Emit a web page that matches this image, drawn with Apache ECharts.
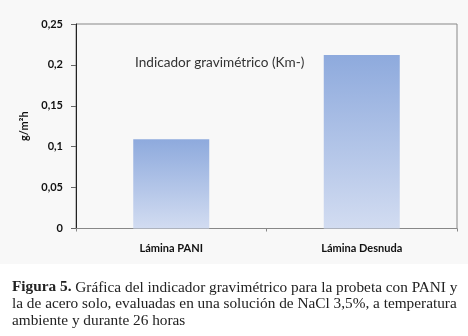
<!DOCTYPE html>
<html>
<head>
<meta charset="utf-8">
<script src="https://cdn.jsdelivr.net/npm/echarts@6/dist/echarts.min.js"></script>
<style>
  html, body { margin: 0; padding: 0; background: #fff; }
  #chart { width: 468px; height: 336px; }
</style>
</head>
<body>
<div id="chart"></div>
<script>
  // datos del gráfico
  var categories = ['Lámina PANI', 'Lámina Desnuda'];
  var values = [0.109, 0.212];
  var yTicks = [0, 0.05, 0.1, 0.15, 0.2, 0.25];
  var chartTitle = 'Indicador gravimétrico (Km-)';
  var yName = 'g/m²h';
  var captionBold = 'Figura 5.';
  var captionLines = [
    ' Gráfica del indicador gravimétrico para la probeta con PANI y',
    'la de acero solo, evaluadas en una solución de NaCl 3,5%, a temperatura',
    'ambiente y durante 26 horas'
  ];

  var labelFont = { color: '#111', fontWeight: 'bold', fontSize: 11, fontFamily: 'Lato, sans-serif' };

  var myChart = echarts.init(document.getElementById('chart'));
  myChart.setOption({
    backgroundColor: '#fff',
    animation: false,
    graphic: [
      { type: 'rect', z: -10, shape: { x: 0, y: 0, width: 468, height: 264 }, style: { fill: '#f8f8f8' } },
      {
        type: 'text', left: 135, top: 56,
        style: { text: chartTitle, fontSize: 13.6, fontFamily: 'Lato, sans-serif', fill: '#333' }
      },
      {
        type: 'text', left: 12, top: 280,
        style: {
          text: '{b|' + captionBold + '}{n|' + captionLines[0] + '}\n{n|' + captionLines[1] + '}\n{n|' + captionLines[2] + '}',
          fill: '#222',
          rich: {
            b: { fontWeight: 'bold', fontSize: 15.3, fontFamily: '"Liberation Serif", serif', fill: '#222', lineHeight: 16.5 },
            n: { fontSize: 15.3, fontFamily: '"Liberation Serif", serif', fill: '#222', lineHeight: 16.5 }
          }
        }
      }
    ],
    grid: { left: 76, top: 24, right: 11, bottom: 107.5, show: true, borderColor: '#888', borderWidth: 1, backgroundColor: 'transparent' },
    xAxis: {
      type: 'category',
      data: categories,
      axisLine: { lineStyle: { color: '#888' } },
      axisTick: { show: true, length: 3, lineStyle: { color: '#888' } },
      axisLabel: Object.assign({ margin: 14 }, labelFont)
    },
    yAxis: {
      type: 'value',
      min: yTicks[0],
      max: yTicks[yTicks.length - 1],
      interval: 0.05,
      name: yName,
      nameLocation: 'middle',
      nameGap: 46,
      nameRotate: 90,
      nameTextStyle: labelFont,
      axisLine: { show: true, lineStyle: { color: '#222' } },
      axisTick: { show: true, length: 5, lineStyle: { color: '#666' } },
      splitLine: { show: false },
      axisLabel: Object.assign({
        margin: 13,
        formatter: function (v) { return String(Math.round(v * 100) / 100).replace('.', ','); }
      }, labelFont)
    },
    series: [{
      type: 'bar',
      data: values,
      barWidth: 76,
      itemStyle: {
        color: new echarts.graphic.LinearGradient(0, 0, 0, 1, [
          { offset: 0, color: '#8eaadd' },
          { offset: 1, color: '#d2dcf1' }
        ])
      }
    }]
  });
</script>
</body>
</html>
